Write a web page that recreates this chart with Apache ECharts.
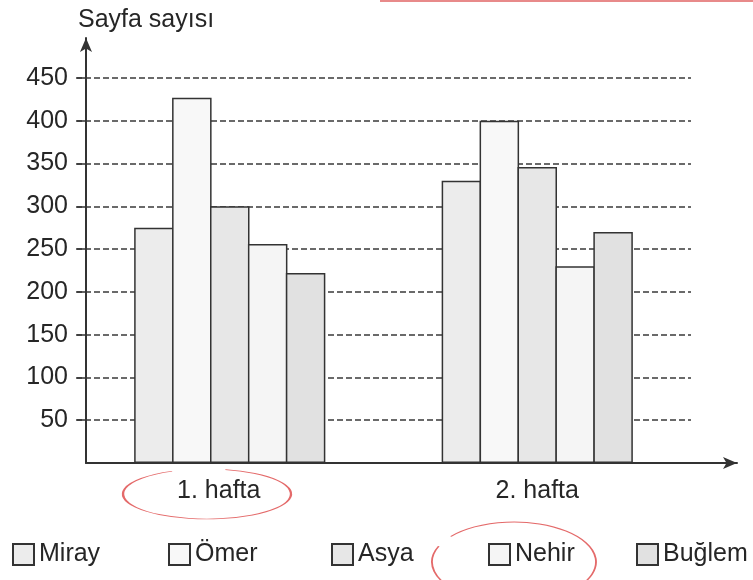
<!DOCTYPE html>
<html>
<head>
<meta charset="utf-8">
<script src="https://cdn.jsdelivr.net/npm/echarts@6/dist/echarts.min.js"></script>
<style>
  html, body { margin: 0; padding: 0; background: #fff; }
  #chart { width: 753px; height: 580px; }
</style>
</head>
<body>
<div id="chart"></div>
<script>
// data
const weeks = ['1. hafta', '2. hafta'];
const names = ['Miray', 'Ömer', 'Asya', 'Nehir', 'Buğlem'];
const miray = [275, 330];
const omer = [427, 400];
const asya = [300, 346];
const nehir = [256, 230];
const buglem = [222, 270];
const yTicks = [50, 100, 150, 200, 250, 300, 350, 400, 450];

const fills = ['#ececec', '#f8f8f8', '#e7e7e7', '#f5f5f5', '#e1e1e1'];
const legendLeft = [12, 168, 331, 488, 636];
const font = '"Liberation Sans", Arial, sans-serif';
const ink = '#262626';

const chart = echarts.init(document.getElementById('chart'));

const values = [miray, omer, asya, nehir, buglem];
const series = names.map((n, i) => ({
  name: n,
  type: 'bar',
  xAxisIndex: 0,
  yAxisIndex: 0,
  data: values[i],
  barWidth: 39.5,
  barGap: '-4%',
  itemStyle: { color: fills[i], borderColor: '#333', borderWidth: 1.5 }
}));

const legends = names.map((n, i) => ({
  data: [n],
  left: legendLeft[i],
  top: 542,
  padding: 0,
  icon: 'rect',
  itemWidth: 21,
  itemHeight: 21,
  selectedMode: false,
  textStyle: { fontSize: 25, color: ink, fontFamily: font }
}));

// hand drawn red pen marks of the original sheet
function penArc(cx, cy, rx, ry, a0, a1) {
  return {
    type: 'arc',
    x: cx, y: cy,
    scaleX: rx / 100, scaleY: ry / 100,
    shape: { cx: 0, cy: 0, r: 100, startAngle: a0, endAngle: a1, clockwise: true },
    style: { stroke: '#e46a6a', lineWidth: 1.3, fill: null, strokeNoScale: true },
    silent: true, z: 10
  };
}

chart.setOption({
  animation: false,
  title: {
    text: 'Sayfa sayısı',
    left: 73, top: 3,
    textStyle: { fontSize: 25, fontWeight: 'normal', color: ink, fontFamily: font }
  },
  legend: legends,
  grid: [
    { left: 76, right: 62, top: 78, bottom: 117 },
    { left: 86, right: 16, top: 38, bottom: 117 }
  ],
  xAxis: [
    {
      type: 'category',
      gridIndex: 0,
      data: weeks,
      axisLine: { show: false },
      axisTick: { show: false },
      axisLabel: {
        fontSize: 25, color: ink, fontFamily: font, margin: 16,
        formatter: (v, i) => (i === 0 ? '{a|' + v + '}' : v),
        rich: { a: { fontSize: 25, color: ink, fontFamily: font, padding: [0, 22, 0, 0] } }
      }
    },
    {
      type: 'value', gridIndex: 1, min: 0, max: 1,
      axisLine: { show: true, symbol: ['none', 'arrow'], symbolSize: [9, 14], lineStyle: { color: '#333', width: 2 } },
      axisTick: { show: false }, axisLabel: { show: false }, splitLine: { show: false }
    }
  ],
  yAxis: [
    {
      type: 'value',
      gridIndex: 0,
      min: 0,
      max: yTicks[yTicks.length - 1],
      interval: 50,
      offset: -10,
      axisLine: { show: false },
      axisTick: { show: true, length: 9, customValues: yTicks, lineStyle: { color: '#333', width: 1.5 } },
      axisLabel: { fontSize: 25, color: ink, fontFamily: font, margin: 18, customValues: yTicks },
      splitLine: { show: true, lineStyle: { color: '#3a3a3a', width: 1.5, type: [6, 3] } }
    },
    {
      type: 'value', gridIndex: 1, min: 0, max: 1,
      axisLine: { show: true, symbol: ['none', 'arrow'], symbolSize: [9, 14], lineStyle: { color: '#333', width: 2 } },
      axisTick: { show: false }, axisLabel: { show: false }, splitLine: { show: false }
    }
  ],
  series: series,
  graphic: [
    penArc(207, 494, 84, 25, -1.35, -2.0),
    penArc(514, 562, 82, 40, -2.45, 3.55),
    {
      type: 'line', silent: true,
      shape: { x1: 380, y1: 1, x2: 753, y2: 1 },
      style: { stroke: '#e88a8a', lineWidth: 2 }
    }
  ]
});
</script>
</body>
</html>
